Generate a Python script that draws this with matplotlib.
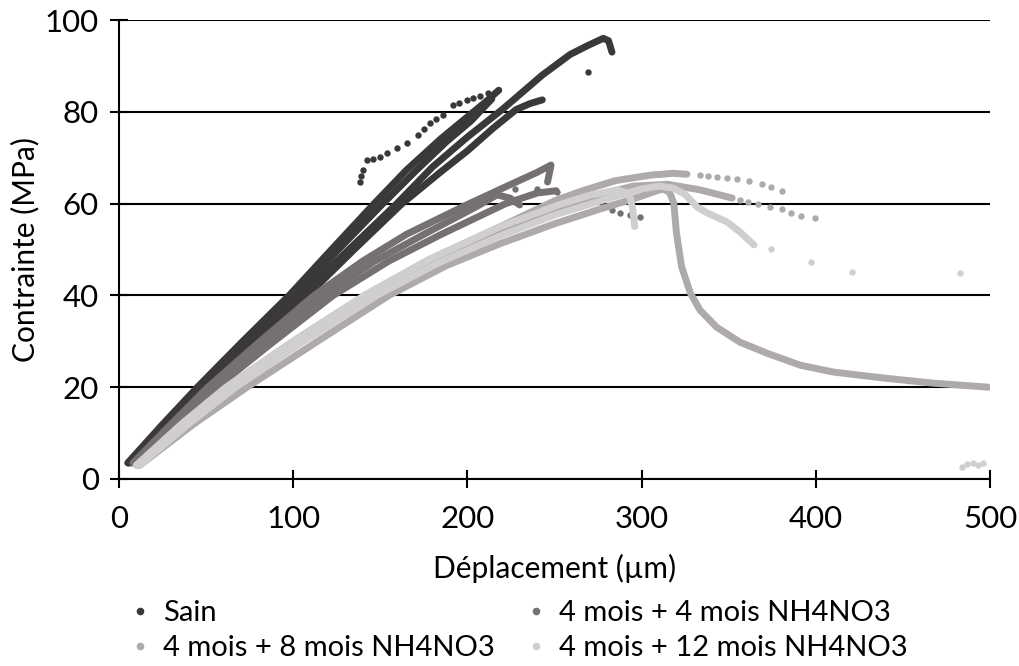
import matplotlib
matplotlib.use("Agg")
import matplotlib.pyplot as plt
from matplotlib.lines import Line2D

plt.rcParams['font.family'] = ['Lato', 'DejaVu Sans']

# ---------------- data ----------------
series_names = ["Sain", "4 mois + 4 mois NH4NO3",
                "4 mois + 8 mois NH4NO3", "4 mois + 12 mois NH4NO3"]
series_colors = ["#3B3838", "#767171", "#AEAAAA", "#D0CECE"]

# Sain : continuous specimen curves
sain_a_x = [6, 26, 47, 75, 104.5, 132, 159.5, 180, 200, 220, 243, 259, 270, 278, 281, 283]
sain_a_y = [3.5, 11.7, 20, 30, 40, 50, 60, 68, 74.5, 80.5, 88, 92.5, 94.6, 96, 95.5, 93]
sain_b_x = [5, 25, 45, 71, 97.7, 122, 146.5, 165, 185, 200, 210, 218]
sain_b_y = [3.5, 11.9, 20, 30, 40, 50, 60, 67.3, 74.2, 78.9, 82, 84.7]
sain_e_x = [5.5, 25.5, 46, 73, 101, 126, 151.5, 170, 188, 202, 214]
sain_e_y = [3.5, 11.8, 20, 30, 40, 50, 60, 67, 73.5, 78, 82.8]
sain_c_x = [7, 27, 47.2, 77, 108.2, 135, 162.5, 185, 200, 215, 228, 236, 243]
sain_c_y = [3.5, 11.6, 20, 30, 40, 50, 60, 67, 71.5, 76.5, 80.5, 81.8, 82.6]
# Sain : sparse dots
sain_d_x = [217.6, 212, 207.2, 203, 199.8, 195, 191.7, 186.0, 182, 178.5, 175, 171.6,
            165.3, 159.6, 154, 149.8, 146, 142.4, 140.1, 139, 138.3, 269.2]
sain_d_y = [84.7, 84.0, 83.4, 83.0, 82.6, 82.0, 81.5, 79.3, 78.5, 77.6, 76.3, 74.9,
            73.2, 72.1, 71.0, 70.2, 69.8, 69.5, 67.3, 66.0, 64.7, 88.7]

# 4 mois + 4 mois : curves
g4_a_x = [8, 30, 51, 81, 112, 140, 165, 200, 225, 240, 248, 247, 246]
g4_a_y = [3.5, 12, 20, 30, 40, 47.5, 53.3, 59.8, 64.2, 66.8, 68.4, 66.5, 64.7]
g4_b_x = [10, 32, 53.5, 85, 117, 147, 175, 205, 217, 224.5, 230]
g4_b_y = [3.5, 12, 20, 30, 40, 47.5, 53.3, 59.3, 61.9, 61.2, 59.7]
g4_c_x = [11, 34, 56, 89, 123, 155, 185, 222, 240, 251]
g4_c_y = [3.5, 12, 20, 30, 40, 47.5, 53.3, 60, 62.3, 62.8]
g4_d_x = [227.3, 239.8, 251.3, 277, 282.8, 287.6, 293.3, 299]
g4_d_y = [63.2, 63.2, 62.6, 59.3, 58.6, 58.0, 57.5, 57.1]

# 4 mois + 8 mois : curves
g8_a_x = [12, 43, 73.5, 114, 155, 188, 219, 250, 276, 295, 305, 312, 316, 318.5, 320,
          323, 328, 333.5, 343, 356.5, 372, 391, 410, 439, 467, 499]
g8_a_y = [3, 12, 20, 30, 40, 46.5, 51.3, 55.6, 58.8, 61, 62.3, 63.2, 62.5, 60.1, 53.6,
          46.2, 40.5, 36.8, 33.1, 29.8, 27.4, 24.8, 23.3, 22, 20.9, 20]
g8_b_x = [10, 36, 61.5, 100, 141, 178, 219, 250, 266, 285, 305, 318, 326]
g8_b_y = [3, 12, 20, 30, 40, 47.8, 55, 60.6, 62.8, 65, 66.2, 66.6, 66.4]
g8_c_x = [11, 38, 64.5, 103, 145, 182, 219, 250, 275, 295, 315, 333.5, 352]
g8_c_y = [3, 12, 20, 30, 40, 47.2, 54, 58.5, 61.8, 63.8, 64.2, 63, 61.2]
g8_d_x = [333.5, 338, 343, 349, 355, 361.7, 369, 374, 380.6,
          356.5, 361, 366.8, 373.7, 380.6, 386, 391.5, 399.5]
g8_d_y = [66.2, 66.0, 65.8, 65.6, 65.4, 64.9, 64.3, 63.6, 62.7,
          60.8, 60.4, 59.9, 59.3, 58.8, 58.0, 57.3, 56.8]

# 4 mois + 12 mois : curves
g12_a_x = [10, 36, 61.5, 100, 141, 178, 219, 253, 270, 286, 291.6, 293.3, 295, 296]
g12_a_y = [3, 12, 20, 30, 40, 47.8, 55, 59.8, 61.8, 63, 62.3, 61.5, 58.6, 55]
g12_b_x = [12, 40, 67, 106, 148, 183, 219, 250, 280, 300, 310, 318, 325, 331.8,
           337.5, 349, 356.5, 364.5]
g12_b_y = [3, 12, 20, 30, 40, 47, 53, 57.5, 61, 63.2, 63.8, 63.4, 62, 59.3,
           58, 56, 53.8, 51]
g12_d_x = [374, 397, 421, 483, 484, 487, 490, 493, 496]
g12_d_y = [50.1, 47.3, 45.1, 44.9, 2.6, 3.2, 3.5, 3.0, 3.4]

# axes ticks
x_ticks = [0, 100, 200, 300, 400, 500]
y_ticks = [0, 20, 40, 60, 80, 100]
x_label = "Déplacement (µm)"
y_label = "Contrainte (MPa)"

# ---------------- figure ----------------
fig = plt.figure(figsize=(10.19, 6.66), dpi=100)
ax = fig.add_axes([119 / 1019, 1 - 479 / 666, (990 - 119) / 1019, (479 - 20) / 666])

LW = 5.0
MS = 4.6

def curve(x, y, c):
    ax.plot(x, y, color=c, lw=LW, solid_capstyle='round', solid_joinstyle='round',
            zorder=3)

def dots(x, y, c):
    ax.plot(x, y, 'o', color=c, ms=MS, mew=0, zorder=3)

c0, c1, c2, c3 = series_colors
for xx, yy in [(sain_a_x, sain_a_y), (sain_b_x, sain_b_y), (sain_e_x, sain_e_y),
               (sain_c_x, sain_c_y)]:
    curve(xx, yy, c0)
dots(sain_d_x, sain_d_y, c0)
for xx, yy in [(g4_a_x, g4_a_y), (g4_b_x, g4_b_y), (g4_c_x, g4_c_y)]:
    curve(xx, yy, c1)
dots(g4_d_x, g4_d_y, c1)
for xx, yy in [(g8_a_x, g8_a_y), (g8_b_x, g8_b_y), (g8_c_x, g8_c_y)]:
    curve(xx, yy, c2)
dots(g8_d_x, g8_d_y, c2)
for xx, yy in [(g12_a_x, g12_a_y), (g12_b_x, g12_b_y)]:
    curve(xx, yy, c3)
dots(g12_d_x, g12_d_y, c3)

ax.set_xlim(0, 500)
ax.set_ylim(0, 100)
ax.set_xticks(x_ticks)
ax.set_yticks(y_ticks)
for s in ['top', 'right']:
    ax.spines[s].set_visible(False)
for s in ['left', 'bottom']:
    ax.spines[s].set_color('black')
    ax.spines[s].set_linewidth(1.5)
ax.grid(axis='y', color='black', lw=1.5, zorder=1)
ax.set_axisbelow(True)
ax.tick_params(axis='both', direction='inout', length=13, width=1.5, labelsize=22.5,
               colors='black')
ax.tick_params(axis='x', pad=12)
ax.tick_params(axis='y', pad=8)
ax.set_xlabel(x_label, fontsize=21.5, labelpad=15)
ax.set_ylabel(y_label, fontsize=21.5, labelpad=4)

handles = [Line2D([], [], marker='o', ls='none', color=c, ms=5.5, mew=0)
           for c in series_colors]
order = [0, 2, 1, 3]
fig.legend([handles[i] for i in order], [series_names[i] for i in order],
           loc='upper left', bbox_to_anchor=(125 / 1019, 1 - 600 / 666),
           borderaxespad=0, borderpad=0,
           ncol=2, frameon=False, fontsize=21, handletextpad=0.3, columnspacing=0.9,
           labelspacing=0.3, handlelength=1.0)

fig.savefig("out.png", dpi=100)
